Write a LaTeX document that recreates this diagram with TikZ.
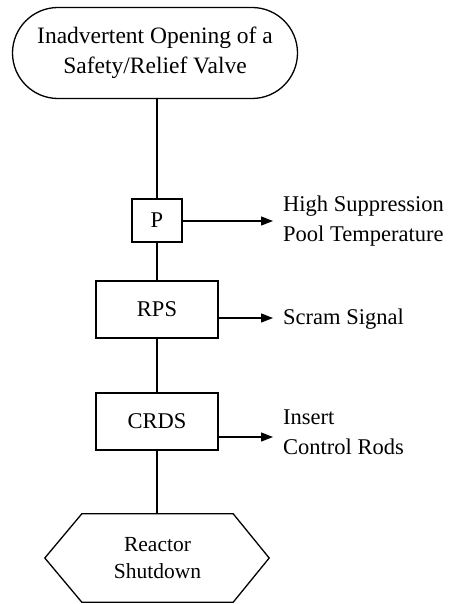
\documentclass[tikz,border=0pt]{standalone}
\usepackage{fontspec}
\setmainfont{Liberation Serif}
\usetikzlibrary{arrows.meta,calc}
\begin{document}
\begin{tikzpicture}[x=1pt,y=-1pt,
  every node/.style={font=\fontsize{22.5}{30}\selectfont, align=center, inner sep=0pt},
  box/.style={draw, line width=1.3pt, rectangle},
  conn/.style={line width=1.3pt},
  arr/.style={line width=1.3pt, -{Triangle[length=12pt,width=9pt]}},
  lbl/.style={anchor=west, align=left}]
\useasboundingbox (0,0) rectangle (459,604);
\node[box, rounded corners=45.5pt, minimum width=285pt, minimum height=91pt, font=\fontsize{23.5}{30}\selectfont] (start) at (155,53) {Inadvertent Opening of a\\Safety/Relief Valve};
\node[box, minimum width=50pt, minimum height=43pt] (P) at (157,220.5) {P};
\node[box, minimum width=122pt, minimum height=57pt] (RPS) at (157,309.5) {RPS};
\node[box, minimum width=122pt, minimum height=57pt] (CRDS) at (157,421.5) {CRDS};
\node[minimum width=151pt, minimum height=88pt, font=\fontsize{21.5}{27}\selectfont] (shut) at (157.5,558) {Reactor\\Shutdown};
\draw[conn] (shut.north west) -- (shut.north east) -- ($(shut.east)+(36,0)$) -- (shut.south east) -- (shut.south west) -- ($(shut.west)+(-37,0)$) -- cycle;
\coordinate (a1) at (273,221);
\coordinate (a2) at (273,318);
\coordinate (a3) at (273,437);
\node[lbl] (l1) at (283,221) {High Suppression\\Pool Temperature};
\node[lbl] (l2) at (283,319) {Scram Signal};
\node[lbl] (l3) at (283,432) {Insert\\Control Rods};
\draw[conn] (P.north |- start.south) -- (P.north);
\draw[conn] (P.south) -- (RPS.north);
\draw[conn] (RPS.south) -- (CRDS.north);
\draw[conn] (CRDS.south) -- (CRDS.south |- shut.north);
\draw[arr] (P.east |- a1) -- (a1);
\draw[arr] (RPS.east |- a2) -- (a2);
\draw[arr] (CRDS.east |- a3) -- (a3);
\end{tikzpicture}
\end{document}
